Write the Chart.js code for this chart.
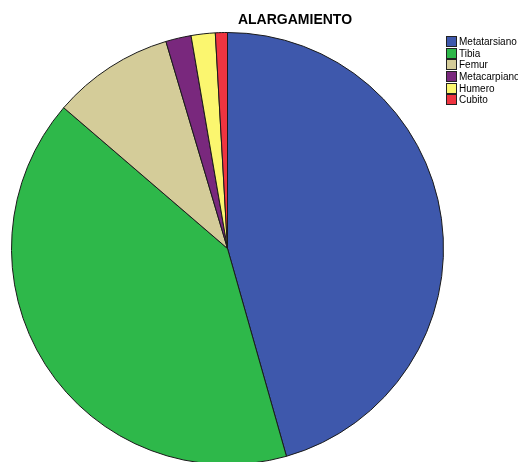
<!DOCTYPE html>
<html>
<head>
<meta charset="utf-8">
<script src="https://cdn.jsdelivr.net/npm/chart.js@4"></script>
<style>
  html, body { margin: 0; padding: 0; background: #fff; overflow: hidden; width: 518px; height: 462px; }
  #wrap { position: absolute; left: 0; top: 0; width: 518px; height: 480px; }
  #title { position: absolute; top: 11px; left: 0; width: 590px; text-align: center;
           font: bold 14px "Liberation Sans", Arial, sans-serif; color: #000; }
  #legend { position: absolute; left: 446px; top: 36px; font: 10px "Liberation Sans", Arial, sans-serif; color: #000; white-space: nowrap; }
  #legend div { height: 11.7px; line-height: 11px; }
  #legend span { display: inline-block; width: 9px; height: 9px; border: 1px solid #222; vertical-align: top; margin-right: 2px; box-sizing: content-box; }
</style>
</head>
<body>
<div id="wrap"><canvas id="PieChart" width="518" height="480"></canvas></div>
<div id="title">ALARGAMIENTO</div>
<div id="legend"></div>
<script>
// percentages
const labels = ['Metatarsiano', 'Tibia', 'Femur', 'Metacarpiano', 'Humero', 'Cubito']
const shares = [45.6, 40.7, 9.1, 1.9, 1.8, 0.9]
const colors = ['#3e58ac', '#2eb84a', '#d4cc99', '#79287d', '#fbf66f', '#ef3440']

const legendBox = document.getElementById('legend')
labels.forEach((l, i) => {
    const row = document.createElement('div')
    row.innerHTML = '<span style="background:' + colors[i] + '"></span>' + l
    legendBox.appendChild(row)
})

const ctl = document.getElementById('PieChart')
window.pieChart = new Chart(ctl, {
    type: 'pie',
    data: {
        labels: labels,
        datasets: [
            {
                data: shares,
                backgroundColor: colors,
                borderColor: '#1a1a1a',
                borderWidth: 1
            }
        ]
    },
    options: {
        responsive: false,
        animation: false,
        layout: {
            padding: { left: 11, top: 32, right: 74, bottom: 15 }
        },
        plugins: {
            legend: { display: false },
            title: { display: false },
            tooltip: { enabled: false }
        }
    }
})
</script>
</body>
</html>
